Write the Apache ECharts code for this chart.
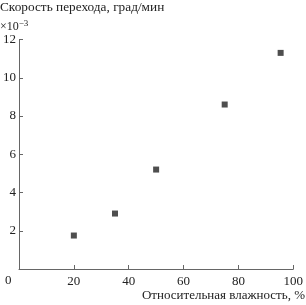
<!DOCTYPE html>
<html><head><meta charset="utf-8">
<script src="https://cdn.jsdelivr.net/npm/echarts@6/dist/echarts.min.js"></script>
<style>html,body{margin:0;padding:0;background:#fff}#c{width:306px;height:305px}</style>
</head><body><div id="c"></div>
<script>
const humidity = [20, 35, 50, 75, 95.4];
const rate = [1.75, 2.9, 5.2, 8.6, 11.3];
const yTitle = 'Скорость перехода, град/мин';
const xTitle = 'Относительная влажность, %';
const ff = '"Liberation Serif", "DejaVu Serif", serif';
const chart = echarts.init(document.getElementById('c'), null, {renderer: 'canvas'});
const axisCol = '#666';
chart.setOption({
  animation: false,
  grid: {left: 16.5, right: 10.5, top: 39.5, bottom: 36, containLabel: false},
  xAxis: {
    type: 'value', min: 0, max: 100, interval: 20,
    axisLine: {show: true, lineStyle: {color: axisCol, width: 1}},
    axisTick: {show: true, inside: true, length: 4, lineStyle: {color: axisCol}},
    axisLabel: {showMinLabel: false, color: '#222', fontFamily: ff, fontSize: 13, margin: 6},
    splitLine: {show: false}
  },
  yAxis: {
    type: 'value', min: 0, max: 12, interval: 2,
    axisLine: {show: true, lineStyle: {color: axisCol, width: 1}},
    axisTick: {show: true, inside: true, length: 4, lineStyle: {color: axisCol}},
    axisLabel: {showMinLabel: false, color: '#222', fontFamily: ff, fontSize: 13, margin: 3},
    splitLine: {show: false}
  },
  graphic: [
    {type: 'text', left: 0, top: 1, style: {text: yTitle, font: '13.3px ' + ff, fill: '#222'}},
    {type: 'text', left: 0, top: 19, style: {text: '×10{s|−3}', font: '12px ' + ff, fill: '#222',
      rich: {s: {fontSize: 9, fontFamily: ff, verticalAlign: 'top', padding: [0,0,6,0]}}}},
    {type: 'text', left: 5, top: 274, style: {text: '0', font: '13px ' + ff, fill: '#222'}},
    {type: 'text', right: 1, top: 289, style: {text: xTitle, font: '13px ' + ff, fill: '#222'}}
  ],
  series: [{
    type: 'scatter', symbol: 'rect', symbolSize: 6,
    itemStyle: {color: '#222'},
    data: humidity.map((h, i) => [h, rate[i]])
  }]
});
</script></body></html>
